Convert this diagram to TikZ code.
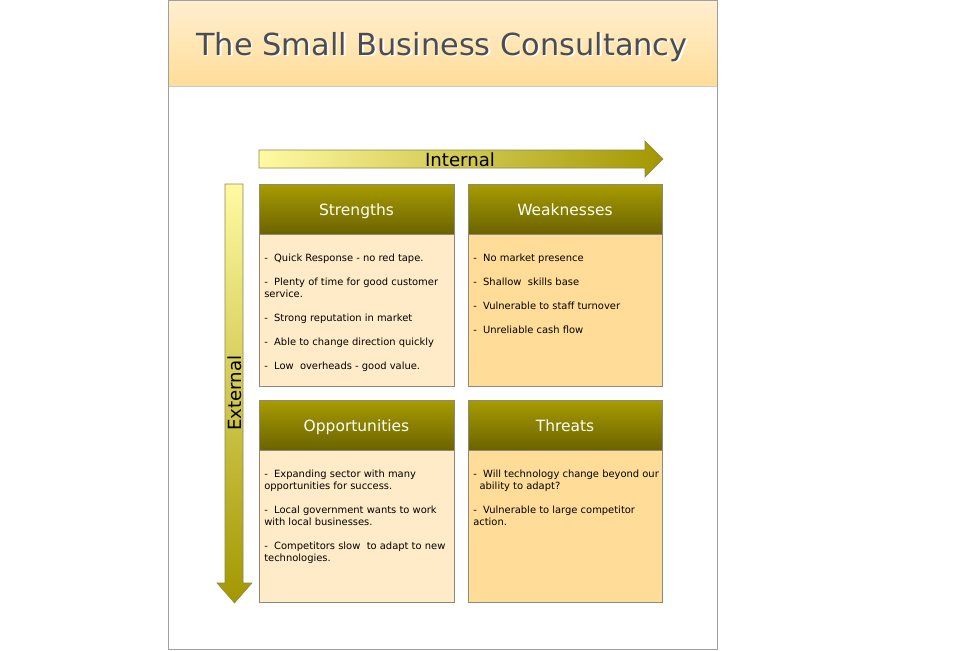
\documentclass[tikz,border=0pt]{standalone}
\usepackage{fontspec}
\setmainfont{DejaVu Sans}
\definecolor{titlegray}{HTML}{4D4D4D}
\definecolor{bandtop}{HTML}{FFEFCF}
\definecolor{bandbot}{HTML}{FFDD99}
\definecolor{olivetop}{HTML}{A89C00}
\definecolor{olivebot}{HTML}{6B6300}
\definecolor{arrowlight}{HTML}{FFFAA2}
\definecolor{arrowdark}{HTML}{A39700}
\definecolor{paleboxfill}{HTML}{FFEBC7}
\definecolor{warmboxfill}{HTML}{FFDC98}
\definecolor{boxline}{HTML}{8E8A7A}
\tikzset{
  headbar/.style={draw=boxline,top color=olivetop,bottom color=olivebot},
  headtext/.style={anchor=base,text=white,font=\fontsize{11.6}{13}\selectfont},
  bodytext/.style={anchor=north west,inner sep=0pt,align=left,text=black,font=\fontsize{7.45}{9}\selectfont},
}
\begin{document}
\begin{tikzpicture}[x=0.75pt,y=-0.75pt]
\useasboundingbox (0,0) rectangle (975,650);
% Page and title band
\fill[white] (168,0) rectangle (717,649);
\shade[top color=bandtop,bottom color=bandbot] (168,0) rectangle (717,86);
\draw[gray!40] (168,86) -- (717,86);
\draw[gray!75] (168,0) rectangle (717,649);
\node[anchor=base,text=white,font=\fontsize{22.8}{26}\selectfont] (titleshadow) at (443.5,56) {The Small Business Consultancy};
\node[anchor=base,text=titlegray,font=\fontsize{22.8}{26}\selectfont] (title) at (442,55) {The Small Business Consultancy};

% Internal arrow
\draw[gray!60!arrowdark,left color=arrowlight,right color=arrowdark,shading angle=90]
  (259,150) -- (645,150) -- (645,141) -- (663,159) -- (645,177) -- (645,168) -- (259,168) -- cycle;
\node[font=\fontsize{13.6}{15}\selectfont] (internal) at (460,160) {Internal};

% External arrow
\draw[gray!60!arrowdark,top color=arrowlight,bottom color=arrowdark]
  (225,184) -- (243,184) -- (243,583) -- (252,583) -- (234.5,603) -- (217,583) -- (225,583) -- cycle;
\node[rotate=90,font=\fontsize{13.6}{15}\selectfont] (external) at (235,393) {External};

% Strengths
\fill[paleboxfill] (259,234) rectangle (454,386);
\draw[headbar] (259,184) rectangle (454,234);
\draw[boxline] (259,184) rectangle (454,386);
\node[headtext] (strengths) at (356.5,215) {Strengths};
\node[bodytext] (strengthslist) at (264,253.5) {-\ \ Quick Response - no red tape.\\[9pt]
-\ \ Plenty of time for good customer\\service.\\[9pt]
-\ \ Strong reputation in market\\[9pt]
-\ \ Able to change direction quickly\\[9pt]
-\ \ Low\ \ overheads - good value.};

% Weaknesses
\fill[warmboxfill] (468,234) rectangle (662,386);
\draw[headbar] (468,184) rectangle (662,234);
\draw[boxline] (468,184) rectangle (662,386);
\node[headtext] (weaknesses) at (565,215) {Weaknesses};
\node[bodytext] (weaknesseslist) at (473,253.5) {-\ \ No market presence\\[9pt]
-\ \ Shallow\ \ skills base\\[9pt]
-\ \ Vulnerable to staff turnover\\[9pt]
-\ \ Unreliable cash flow};

% Opportunities
\fill[paleboxfill] (259,450) rectangle (454,602);
\draw[headbar] (259,400) rectangle (454,450);
\draw[boxline] (259,400) rectangle (454,602);
\node[headtext] (opportunities) at (356.5,431) {Opportunities};
\node[bodytext] (opportunitieslist) at (264,469.5) {-\ \ Expanding sector with many\\opportunities for success.\\[9pt]
-\ \ Local government wants to work\\with local businesses.\\[9pt]
-\ \ Competitors slow\ \ to adapt to new\\technologies.};

% Threats
\fill[warmboxfill] (468,450) rectangle (662,602);
\draw[headbar] (468,400) rectangle (662,450);
\draw[boxline] (468,400) rectangle (662,602);
\node[headtext] (threats) at (565,431) {Threats};
\node[bodytext] (threatslist) at (473,469.5) {-\ \ Will technology change beyond our\\\ \ ability to adapt?\\[9pt]
-\ \ Vulnerable to large competitor\\action.};
\end{tikzpicture}
\end{document}
